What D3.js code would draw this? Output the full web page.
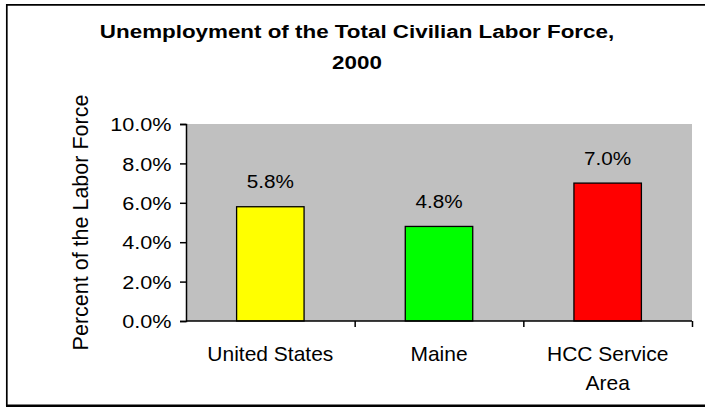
<!DOCTYPE html>
<html>
<head>
<meta charset="utf-8">
<script src="https://cdn.jsdelivr.net/npm/d3@7"></script>
<style>
  body { margin: 0; background: #fff; }
  text { font-family: "Liberation Sans", Arial, sans-serif; fill: #000; }
</style>
</head>
<body>
<div id="chart"></div>
<script>
// data
var categories = ["United States", "Maine", "HCC Service Area"];
var catLines = [["United States"], ["Maine"], ["HCC Service", "Area"]];
var rates = [0.058, 0.048, 0.070];
var barColors = ["#ffff00", "#00ff00", "#ff0000"];
var yTicks = [0, 0.02, 0.04, 0.06, 0.08, 0.10];

var svgWidth = 705;
var svgHeight = 409;

var margin = { top: 124, right: 13, bottom: 88, left: 186 };
var width = svgWidth - margin.left - margin.right;
var height = svgHeight - margin.top - margin.bottom;

var svg = d3.select("#chart")
  .append("svg")
  .attr("width", svgWidth)
  .attr("height", svgHeight);

// outer frame (no right edge visible in the picture)
svg.append("line").attr("x1", 6.8).attr("x2", 705).attr("y1", 4.8).attr("y2", 4.8)
  .attr("stroke", "#000").attr("stroke-width", 1.7);
svg.append("line").attr("x1", 6.8).attr("x2", 6.8).attr("y1", 4).attr("y2", 406)
  .attr("stroke", "#000").attr("stroke-width", 1.7);
svg.append("line").attr("x1", 6).attr("x2", 705).attr("y1", 405.8).attr("y2", 405.8)
  .attr("stroke", "#000").attr("stroke-width", 2.6);

// title, two lines
var title = ["Unemployment of the Total Civilian Labor Force,", "2000"];
svg.selectAll(".title")
  .data(title)
  .enter()
  .append("text")
  .attr("class", "title")
  .attr("text-anchor", "middle")
  .attr("font-weight", 700)
  .attr("font-size", 17.5)
  .attr("transform", (d, i) => `translate(357, ${37.5 + i * 31}) scale(1.28,1)`)
  .text(d => d);

var chartGroup = svg.append("g")
  .attr("transform", `translate(${margin.left}, ${margin.top})`);

var x = d3.scaleBand()
  .domain(categories)
  .range([0, width])
  .paddingInner(0.6)
  .paddingOuter(0.3);

var y = d3.scaleLinear()
  .domain([0, 0.10])
  .range([height, 0]);

// gray plot area
chartGroup.append("rect")
  .attr("width", width)
  .attr("height", height)
  .attr("fill", "#c0c0c0");

// bars
chartGroup.selectAll(".bar")
  .data(rates)
  .enter()
  .append("rect")
  .attr("class", "bar")
  .attr("x", (d, i) => x(categories[i]))
  .attr("y", d => y(d))
  .attr("width", x.bandwidth())
  .attr("height", d => height - y(d))
  .attr("fill", (d, i) => barColors[i])
  .attr("stroke", "#000")
  .attr("stroke-width", 1.3);

// value labels
chartGroup.selectAll(".val")
  .data(rates)
  .enter()
  .append("text")
  .attr("class", "val")
  .attr("text-anchor", "middle")
  .attr("font-size", 18.5)
  .attr("transform", (d, i) =>
    `translate(${x(categories[i]) + x.bandwidth() / 2}, ${y(d) - 18.5}) scale(1.12,1)`)
  .text(d => d3.format(".1%")(d));

// y axis
var leftAxis = d3.axisLeft(y)
  .tickValues(yTicks)
  .tickSize(6)
  .tickPadding(0)
  .tickFormat(d3.format(".1%"));

var yAxisG = chartGroup.append("g").call(leftAxis);
yAxisG.select(".domain").attr("stroke", "#000").attr("stroke-width", 1.5);
yAxisG.selectAll(".tick line").attr("stroke", "#000").attr("stroke-width", 1.5);
yAxisG.selectAll(".tick text")
  .attr("font-size", 18.5)
  .attr("font-family", null)
  .attr("x", -14.5 / 1.17)
  .attr("dy", "0.36em")
  .attr("transform", "scale(1.17,1)");
yAxisG.attr("font-family", null).attr("font-size", null);

// x axis: boundary ticks between categories
var xBounds = d3.scaleLinear().domain([0, categories.length]).range([0, width]);
var bottomAxis = d3.axisBottom(xBounds)
  .ticks(categories.length)
  .tickSize(6)
  .tickFormat("");
var xAxisG = chartGroup.append("g")
  .attr("transform", `translate(0, ${height})`)
  .call(bottomAxis);
xAxisG.select(".domain").attr("stroke", "#000").attr("stroke-width", 1.5)
  .attr("d", `M0,0H${width}`);
xAxisG.selectAll(".tick line").attr("stroke", "#000").attr("stroke-width", 1.5);
xAxisG.selectAll(".tick").filter(d => d === 0).remove();

// category labels
var catGroup = chartGroup.selectAll(".cat")
  .data(categories)
  .enter()
  .append("g")
  .attr("class", "cat");
catGroup.each(function(c, i) {
  d3.select(this).selectAll("text")
    .data(catLines[i])
    .enter()
    .append("text")
    .attr("text-anchor", "middle")
    .attr("font-size", 20)
    .attr("transform", (d, j) =>
      `translate(${x(c) + x.bandwidth() / 2}, ${height + 40 + j * 29}) scale(1.05,1)`)
    .text(d => d);
});

// y axis label
svg.append("text")
  .attr("text-anchor", "middle")
  .attr("font-size", 21.5)
  .attr("transform", "translate(88.3, 222.5) rotate(-90)")
  .text("Percent of the Labor Force");
</script>
</body>
</html>
